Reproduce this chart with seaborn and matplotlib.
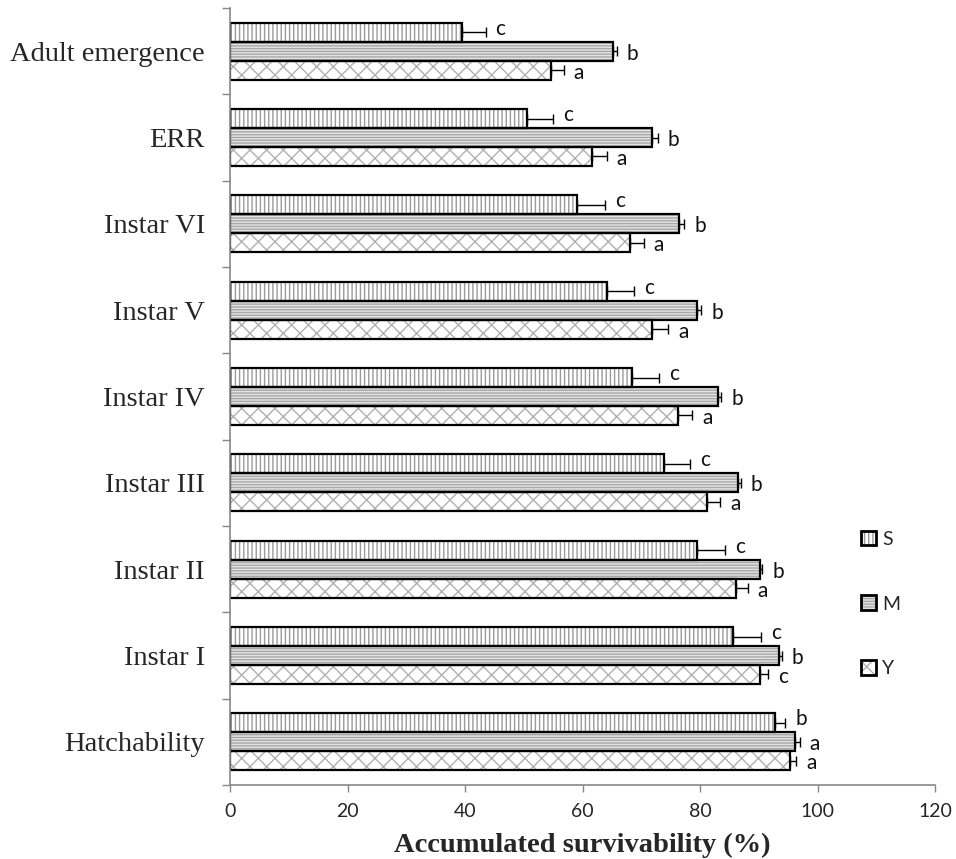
import matplotlib
matplotlib.use("Agg")
import matplotlib.pyplot as plt
from matplotlib.patches import Patch, Rectangle
import numpy as np
import pandas as pd
import seaborn as sns

# Developmental stages, top to bottom
stages = ["Adult emergence", "ERR", "Instar VI", "Instar V", "Instar IV",
          "Instar III", "Instar II", "Instar I", "Hatchability"]
groups = ["S", "M", "Y"]

# Accumulated survivability (%) per group
surv_S = [39.5, 50.5, 59.0, 64.1, 68.5, 73.9, 79.5, 85.7, 92.8]
surv_M = [65.2, 71.8, 76.4, 79.5, 83.0, 86.5, 90.2, 93.5, 96.2]
surv_Y = [54.7, 61.7, 68.1, 71.9, 76.3, 81.2, 86.1, 90.2, 95.4]

# Standard errors
se_S = [4.0, 4.5, 4.9, 4.7, 4.5, 4.4, 4.8, 4.7, 1.7]
se_M = [0.6, 1.0, 0.9, 0.7, 0.6, 0.4, 0.4, 0.4, 0.8]
se_Y = [2.1, 2.4, 2.3, 2.7, 2.4, 2.2, 2.0, 1.4, 1.0]

# Significance letters
let_S = ["c", "c", "c", "c", "c", "c", "c", "c", "b"]
let_M = ["b", "b", "b", "b", "b", "b", "b", "b", "a"]
let_Y = ["a", "a", "a", "a", "a", "a", "a", "c", "a"]

values = {"S": surv_S, "M": surv_M, "Y": surv_Y}
errors = {"S": se_S, "M": se_M, "Y": se_Y}
letters = {"S": let_S, "M": let_M, "Y": let_Y}

df = pd.DataFrame({
    "stage": np.tile(stages, len(groups)),
    "group": np.repeat(groups, len(stages)),
    "survival": np.concatenate([surv_S, surv_M, surv_Y]),
})

sns.set_style("white")
plt.rcParams["hatch.linewidth"] = 1.0

styles = {
    "S": dict(face="white", hatch="||||", hcol="#9a9a9a"),
    "M": dict(face="#e4e4e4", hatch="------", hcol="#a8a8a8"),
    "Y": dict(face="white", hatch="xx", hcol="#b0b0b0"),
}

fig = plt.figure(figsize=(9.56, 8.59), dpi=100)
ax = fig.add_axes([230 / 956, (859 - 785) / 859, (935 - 230) / 956, (785 - 8) / 859])

sns.barplot(data=df, x="survival", y="stage", hue="group", order=stages,
            hue_order=groups, orient="h", width=0.66, gap=0, errorbar=None,
            legend=False, ax=ax)

for cont, g in zip(ax.containers, groups):
    st = styles[g]
    for i, bar in enumerate(cont.patches):
        # hatched fill with grey lines
        bar.set_facecolor(st["face"])
        bar.set_edgecolor(st["hcol"])
        bar.set_hatch(st["hatch"])
        bar.set_linewidth(0)
        # black outline on top
        ax.add_patch(Rectangle(bar.get_xy(), bar.get_width(), bar.get_height(),
                               fill=False, edgecolor="black", linewidth=1.6,
                               zorder=bar.get_zorder() + 0.5))
        yc = bar.get_y() + bar.get_height() / 2
        w = bar.get_width()
        e = errors[g][i]
        ax.errorbar(w, yc, xerr=[[0], [e]], fmt="none", ecolor="black",
                    elinewidth=1.0, capsize=3.5, capthick=1.0, zorder=5)
        dy = -0.04 if g == "S" else 0.03
        ax.text(w + e + 1.7, yc + dy, letters[g][i], ha="left", va="center",
                fontsize=15, family="Lato", color="#111111")

ax.set_xlim(0, 120)
ax.set_ylim(len(stages) - 0.5, -0.5)
ax.set_xticks(np.arange(0, 121, 20))
ax.tick_params(axis="x", labelsize=14, length=5, width=1, color="#888888",
               pad=8, direction="out", bottom=True)
for lab in ax.get_xticklabels():
    lab.set_family("Lato")

ax.set_yticks(np.arange(len(stages)))
ax.set_yticklabels(stages, family="Liberation Serif", fontsize=20.5)
ax.set_yticks(np.arange(len(stages) + 1) - 0.5, minor=True)
ax.tick_params(axis="y", which="major", length=0, pad=18)
ax.tick_params(axis="y", which="minor", length=6, width=1, color="#888888",
               direction="out", left=True)

ax.set_xlabel("Accumulated survivability (%)", family="Liberation Serif",
              fontsize=20.5, fontweight="bold", labelpad=9)
ax.set_ylabel("")

for side in ["top", "right"]:
    ax.spines[side].set_visible(False)
for side in ["left", "bottom"]:
    ax.spines[side].set_color("#888888")
    ax.spines[side].set_linewidth(1.2)

# Legend: grey hatch with a black outline drawn over it
handles = []
for g in groups:
    st = styles[g]
    fill = Patch(facecolor=st["face"], edgecolor=st["hcol"], hatch=st["hatch"],
                 linewidth=0)
    edge = Patch(facecolor="none", edgecolor="black", linewidth=2.0)
    handles.append((fill, edge))
fig.legend(handles, groups, loc="center left",
           bbox_to_anchor=(843 / 956, 1 - 604 / 859),
           frameon=False, handlelength=0.8, handleheight=0.8,
           handletextpad=0.3, labelspacing=2.45,
           prop={"family": "Lato", "size": 14})

fig.savefig("out.png", dpi=100)
